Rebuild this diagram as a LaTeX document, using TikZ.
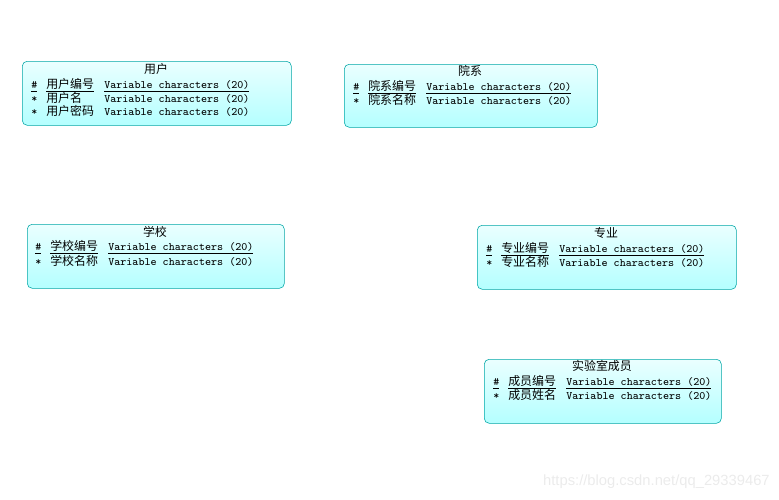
\documentclass[tikz,border=0pt]{standalone}
\usepackage{fontspec}
\setmainfont{Liberation Sans}
\setmonofont{Latin Modern Mono}
\newfontfamily\cjk{Noto Sans CJK SC}
\usepackage{xcolor}
\usepackage{tikz}
\definecolor{entline}{HTML}{00A6A6}
\definecolor{entlight}{HTML}{EAFFFF}
\definecolor{entdark}{HTML}{B4FFFF}
\newcommand{\ul}[1]{\setbox0\hbox{#1}\rlap{\rule[-2.3pt]{\wd0}{0.45pt}}\box0}
\newcommand{\pkrow}[2]{\makebox[0.375cm][l]{\ul{\ttfamily\#}}\makebox[1.45cm][l]{\ul{\cjk\fontsize{8.5}{9}\selectfont #1}}\ul{\ttfamily #2}}
\newcommand{\atrow}[2]{\makebox[0.375cm][l]{\ttfamily*}\makebox[1.45cm][l]{\cjk\fontsize{8.5}{9}\selectfont #1}{\ttfamily #2}}

\begin{document}
\begin{tikzpicture}[
  x=0.025cm, y=-0.025cm,
  entity/.style={draw=entline, rounded corners=3.5pt, top color=entlight, bottom color=entdark,
                 anchor=north west, minimum height=1.6cm, inner sep=0pt},
  title/.style={font=\cjk\fontsize{8.5}{9}\selectfont, inner sep=0pt},
  attr/.style={anchor=west, inner sep=0pt, font=\fontsize{8.1}{9}\selectfont}
]
  \useasboundingbox (0,0) rectangle (779,500);
  % entities
  \node[entity, minimum width=6.725cm] (yonghu) at (22,61)  {};
  \node[entity, minimum width=6.325cm, minimum height=1.575cm] (yuanxi) at (344,64) {};
  \node[entity, minimum width=6.425cm] (xuexiao) at (27,224) {};
  \node[entity, minimum width=6.475cm] (zhuanye) at (477,225) {};
  \node[entity, minimum width=5.925cm] (chengyuan) at (484,359) {};
  % titles
  \node[title] (yonghu-t)    at (156,69)  {用户};
  \node[title] (yuanxi-t)    at (470,71)  {院系};
  \node[title] (xuexiao-t)   at (155,232) {学校};
  \node[title] (zhuanye-t)   at (606,233) {专业};
  \node[title] (chengyuan-t) at (602,366) {实验室成员};
  % attributes
  \node[attr] (yonghu-1) at (31,85)  {\pkrow{用户编号}{Variable characters (20)}};
  \node[attr] (yonghu-2) at (31,98)  {\atrow{用户名}{Variable characters (20)}};
  \node[attr] (yonghu-3) at (31,111) {\atrow{用户密码}{Variable characters (20)}};
  \node[attr] (yuanxi-1) at (353,87)  {\pkrow{院系编号}{Variable characters (20)}};
  \node[attr] (yuanxi-2) at (353,100) {\atrow{院系名称}{Variable characters (20)}};
  \node[attr] (xuexiao-1) at (35,247) {\pkrow{学校编号}{Variable characters (20)}};
  \node[attr] (xuexiao-2) at (35,261) {\atrow{学校名称}{Variable characters (20)}};
  \node[attr] (zhuanye-1) at (486,249) {\pkrow{专业编号}{Variable characters (20)}};
  \node[attr] (zhuanye-2) at (486,262) {\atrow{专业名称}{Variable characters (20)}};
  \node[attr] (chengyuan-1) at (493,382) {\pkrow{成员编号}{Variable characters (20)}};
  \node[attr] (chengyuan-2) at (493,395) {\atrow{成员姓名}{Variable characters (20)}};
  % watermark
  \node[anchor=east, inner sep=0pt, text=black!8, font=\fontsize{10.5}{12}\selectfont] (mark) at (770,482) {https://blog.csdn.net/qq\_29339467};
\end{tikzpicture}
\end{document}
